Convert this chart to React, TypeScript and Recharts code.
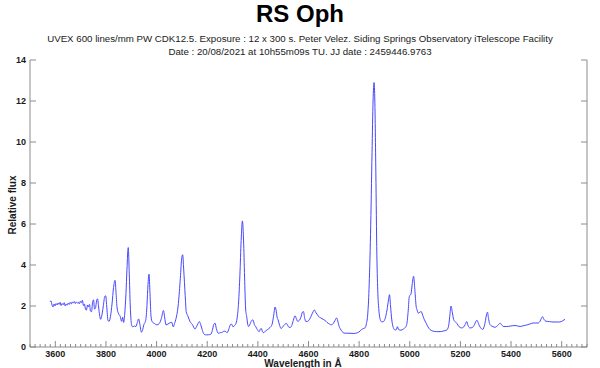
import React from "react";
import { LineChart, Line, XAxis, YAxis } from "recharts";

const TITLE = "RS Oph";
const SUBTITLE_1 =
  "UVEX 600 lines/mm PW CDK12.5. Exposure : 12 x 300 s. Peter Velez. Siding Springs Observatory iTelescope Facility";
const SUBTITLE_2 = "Date : 20/08/2021 at 10h55m09s TU. JJ date : 2459446.9763";
const X_LABEL = "Wavelength in Å";
const Y_LABEL = "Relative flux";

const X_DOMAIN = [3500, 5700];
const Y_DOMAIN = [0, 14];
const X_MAJOR = [3600, 3800, 4000, 4200, 4400, 4600, 4800, 5000, 5200, 5400, 5600];
const X_MINOR_STEP = 20;
const Y_TICKS = [0, 2, 4, 6, 8, 10, 12, 14];

// wavelength (Å)
const WAVELENGTHS = [
  3579, 3583, 3587, 3591, 3595, 3599, 3603, 3607, 3611, 3615, 3619, 3623, 3627, 3631, 3635, 3639,
  3643, 3647, 3651, 3655, 3659, 3663, 3667, 3671, 3675, 3679, 3683, 3687, 3691, 3695, 3699, 3703,
  3707, 3711, 3715, 3719, 3723, 3727, 3731, 3735, 3739, 3743, 3747, 3751, 3755, 3759, 3763, 3767,
  3771, 3775, 3779, 3783, 3789, 3795, 3799, 3803,
  3808, 3812, 3818, 3824, 3830, 3836, 3840, 3844, 3850, 3856, 3862, 3866, 3870, 3874, 3879, 3883,
  3888, 3892, 3896, 3901, 3906, 3912, 3918, 3924, 3929, 3934, 3940, 3944, 3950, 3956, 3961, 3965,
  3970, 3974, 3978, 3983, 3991, 4001, 4011, 4019, 4027, 4033, 4037, 4045, 4053, 4060, 4066, 4071,
  4077, 4085, 4093, 4099, 4103, 4107, 4113,
  4117, 4124, 4132, 4141, 4152, 4158, 4164, 4169, 4174, 4180, 4185, 4192, 4198, 4206, 4214, 4220,
  4226, 4231, 4236, 4244, 4252, 4260, 4266, 4273, 4279, 4286, 4292, 4296, 4302, 4308, 4314, 4319,
  4324, 4329, 4334, 4339, 4344, 4348, 4352, 4356, 4360, 4364, 4370, 4376, 4381, 4386, 4392, 4398,
  4405, 4410, 4414, 4418, 4423, 4430, 4438, 4448, 4456, 4462, 4468, 4472, 4476, 4480, 4486, 4492,
  4498, 4506, 4513, 4520, 4527, 4534, 4540, 4547, 4553, 4557, 4564, 4570, 4576, 4580, 4585, 4589,
  4596, 4604, 4612, 4618, 4623, 4628, 4634, 4639, 4648, 4658, 4665, 4673, 4683, 4691, 4698, 4705,
  4711,
  4717, 4721, 4725, 4733, 4741, 4751, 4764, 4779, 4794, 4804, 4810, 4817, 4823, 4829, 4834, 4839,
  4845, 4851, 4855, 4859, 4862, 4866, 4870, 4874, 4878, 4883, 4890, 4897, 4903, 4910, 4916, 4920,
  4924, 4929, 4935, 4942, 4947, 4951, 4956, 4965, 4975, 4982, 4988, 4994, 4998,
  5005, 5010, 5015, 5020, 5025, 5029, 5034, 5040, 5045, 5051, 5057, 5063, 5071, 5080, 5091, 5106,
  5120, 5133, 5146, 5153, 5158, 5163, 5168, 5173, 5179, 5186, 5194, 5205, 5213, 5219, 5225, 5230,
  5238, 5247, 5256, 5261, 5266, 5271, 5279, 5288, 5296, 5302, 5307, 5311, 5315,
  5320, 5328, 5337, 5347, 5357, 5363, 5369, 5382, 5397, 5416, 5436, 5452, 5461, 5474, 5487, 5497,
  5507, 5514, 5520, 5524, 5530, 5537, 5552, 5566, 5582, 5592, 5604, 5613,
];

// relative flux
const FLUX = [
  2.2, 2.25, 2.05, 1.95, 2.1, 2.0, 2.12, 2.05, 2.15, 2.08, 2.18, 2.02, 2.12, 2.06, 2.16, 2.0,
  2.1, 2.04, 2.14, 2.08, 2.18, 2.1, 2.2, 2.14, 2.22, 2.12, 2.2, 2.14, 2.18, 2.1, 2.24, 2.16,
  2.28, 2.02, 2.1, 1.85, 1.8, 2.05, 1.95, 2.08, 1.75, 1.72, 2.15, 2.3, 1.85, 1.92, 2.25, 2.35,
  1.95, 1.55, 1.35, 1.5, 1.95, 2.45, 2.5, 2.0,
  1.3, 1.25, 1.5, 2.1, 2.9, 3.25, 2.6, 1.9, 1.62, 1.5, 1.25, 1.45, 1.2, 1.6, 2.6, 3.8,
  4.85, 3.6, 2.0, 1.1, 0.98, 1.02, 1.0, 1.2, 1.37, 1.1, 0.72, 0.8, 1.1, 1.25, 1.8, 2.8,
  3.55, 2.6, 1.5, 1.22, 1.15, 1.08, 1.15, 1.4, 1.78, 1.35, 1.08, 1.12, 1.18, 1.2, 0.98, 1.15,
  1.4, 2.0, 3.2, 4.3, 4.5, 3.8, 2.5,
  1.73, 1.5, 1.24, 1.1, 0.88, 1.0, 1.15, 1.24, 1.1, 0.85, 0.67, 0.6, 0.59, 0.6, 0.62, 0.8,
  1.1, 1.16, 0.9, 0.67, 0.7, 0.72, 0.78, 0.75, 0.7, 0.9, 1.1, 1.12, 0.98, 1.05, 1.16, 1.5,
  2.2, 3.5, 5.2, 6.15, 5.0, 3.2, 1.8, 1.48, 1.1, 1.0, 1.15, 1.3, 1.32, 1.1, 0.98, 0.85,
  0.75, 0.88, 0.9, 0.75, 0.7, 0.78, 0.85, 0.95, 1.1, 1.5, 1.95, 1.8, 1.45, 1.32, 1.05, 0.9,
  0.98, 1.1, 1.15, 1.0, 0.95, 1.05, 1.3, 1.52, 1.35, 1.25, 1.3, 1.45, 1.7, 1.73, 1.4, 1.25,
  1.25, 1.35, 1.55, 1.72, 1.81, 1.7, 1.6, 1.5, 1.42, 1.35, 1.3, 1.2, 1.12, 1.08, 1.15, 1.3,
  1.42,
  1.2, 1.0, 0.9, 0.75, 0.68, 0.67, 0.67, 0.66, 0.7, 0.78, 0.86, 0.9, 0.93, 1.15, 1.6, 2.8,
  5.5, 9.5, 12.0, 12.9, 12.0, 8.5, 4.5, 2.6, 1.8, 1.35, 1.22, 1.25, 1.4, 1.8, 2.3, 2.55,
  2.0, 1.32, 0.95, 0.83, 0.85, 0.99, 0.85, 0.82, 0.88, 0.95, 1.1, 1.8, 2.45,
  2.6, 3.1, 3.45, 2.8, 2.0, 1.8, 1.65, 1.7, 1.73, 1.55, 1.35, 1.2, 1.0, 0.85, 0.78, 0.75,
  0.75, 0.78, 0.83, 1.0, 1.5, 2.0, 1.7, 1.35, 1.24, 1.15, 1.0, 0.93, 0.98, 1.1, 1.24, 1.05,
  0.93, 0.95, 1.1, 1.25, 1.3, 1.15, 0.95, 0.86, 1.1, 1.5, 1.7, 1.4, 1.15,
  1.05, 1.0, 0.96, 1.05, 1.16, 1.08, 1.0, 1.0, 1.02, 1.05, 1.0, 1.05, 1.07, 1.12, 1.17, 1.17,
  1.17, 1.25, 1.4, 1.48, 1.35, 1.26, 1.24, 1.22, 1.22, 1.22, 1.28, 1.35,
];

const data = WAVELENGTHS.map((w, i) => ({ w, f: FLUX[i] }));

const X_TICKS: number[] = [];
for (let v = X_DOMAIN[0]; v <= X_DOMAIN[1]; v += X_MINOR_STEP) X_TICKS.push(v);

const FONT = "'Liberation Sans', Arial, Helvetica, sans-serif";
const AXIS_COLOR = "#8c8c8c";
const TEXT_COLOR = "#1a1a1a";
const MAJOR_LEN = 6;
const MINOR_LEN = 3;

const isMajorX = (v: number) => X_MAJOR.includes(v);

const BottomTick = (props: any) => {
  const { x, y, payload } = props;
  const major = isMajorX(payload.value);
  return (
    <g>
      <line x1={x} x2={x} y1={y} y2={y - (major ? MAJOR_LEN : MINOR_LEN)} stroke={AXIS_COLOR} strokeWidth={1} />
      {major && (
        <text x={x} y={y + 10} textAnchor="middle" fontSize={9} fontWeight="bold" fontFamily={FONT} fill={TEXT_COLOR}>
          {payload.value}
        </text>
      )}
    </g>
  );
};

const TopTick = (props: any) => {
  const { x, y, payload } = props;
  const major = isMajorX(payload.value);
  return (
    <line x1={x} x2={x} y1={y} y2={y + (major ? MAJOR_LEN : MINOR_LEN)} stroke={AXIS_COLOR} strokeWidth={1} />
  );
};

const LeftTick = (props: any) => {
  const { x, y, payload } = props;
  return (
    <g>
      <line x1={x} x2={x + MAJOR_LEN} y1={y} y2={y} stroke={AXIS_COLOR} strokeWidth={1} />
      <text x={x - 4} y={y + 3} textAnchor="end" fontSize={9} fontWeight="bold" fontFamily={FONT} fill={TEXT_COLOR}>
        {payload.value}
      </text>
    </g>
  );
};

const RightTick = (props: any) => {
  const { x, y } = props;
  return <line x1={x} x2={x - MAJOR_LEN} y1={y} y2={y} stroke={AXIS_COLOR} strokeWidth={1} />;
};

export default function App() {
  return (
    <div style={{ position: "absolute", left: 0, top: 0, width: 600, height: 368, background: "#fff" }}>
      <LineChart
        width={600}
        height={368}
        data={data}
        margin={{ top: 60, right: 0, bottom: 0, left: 0 }}
      >
        <XAxis
          dataKey="w"
          type="number"
          domain={X_DOMAIN}
          allowDataOverflow
          ticks={X_TICKS}
          interval={0}
          height={21}
          tickSize={0}
          tickMargin={0}
          tick={<BottomTick />}
          axisLine={{ stroke: AXIS_COLOR }}
        />
        <XAxis
          xAxisId="top"
          dataKey="w"
          type="number"
          orientation="top"
          domain={X_DOMAIN}
          allowDataOverflow
          ticks={X_TICKS}
          interval={0}
          height={0}
          tickSize={0}
          tickMargin={0}
          tick={<TopTick />}
          axisLine={{ stroke: AXIS_COLOR }}
        />
        <YAxis
          type="number"
          domain={Y_DOMAIN}
          allowDataOverflow
          ticks={Y_TICKS}
          interval={0}
          width={30}
          tickSize={0}
          tickMargin={0}
          tick={<LeftTick />}
          axisLine={{ stroke: AXIS_COLOR }}
        />
        <YAxis
          yAxisId="right"
          orientation="right"
          type="number"
          domain={Y_DOMAIN}
          allowDataOverflow
          ticks={Y_TICKS}
          interval={0}
          width={13}
          tickSize={0}
          tickMargin={0}
          tick={<RightTick />}
          axisLine={{ stroke: AXIS_COLOR }}
        />
        <Line
          dataKey="f"
          type="monotone"
          stroke="#4646ff"
          strokeWidth={1}
          dot={false}
          isAnimationActive={false}
        />
      </LineChart>
      <svg
        width={600}
        height={368}
        style={{ position: "absolute", left: 0, top: 0, pointerEvents: "none" }}
      >
        <text x={300} y={22} textAnchor="middle" fontSize={24} fontWeight="bold" fontFamily={FONT} fill="#000">
          {TITLE}
        </text>
        <text x={300} y={42} textAnchor="middle" fontSize={9.7} fontFamily={FONT} fill={TEXT_COLOR}>
          {SUBTITLE_1}
        </text>
        <text x={300} y={55} textAnchor="middle" fontSize={9.7} fontFamily={FONT} fill={TEXT_COLOR}>
          {SUBTITLE_2}
        </text>
        <text x={303} y={367} textAnchor="middle" fontSize={10} fontWeight="bold" fontFamily={FONT} fill={TEXT_COLOR}>
          {X_LABEL}
        </text>
        <text
          x={0}
          y={0}
          transform="translate(16,205) rotate(-90)"
          textAnchor="middle"
          fontSize={10}
          fontWeight="bold"
          fontFamily={FONT}
          fill={TEXT_COLOR}
        >
          {Y_LABEL}
        </text>
      </svg>
    </div>
  );
}
